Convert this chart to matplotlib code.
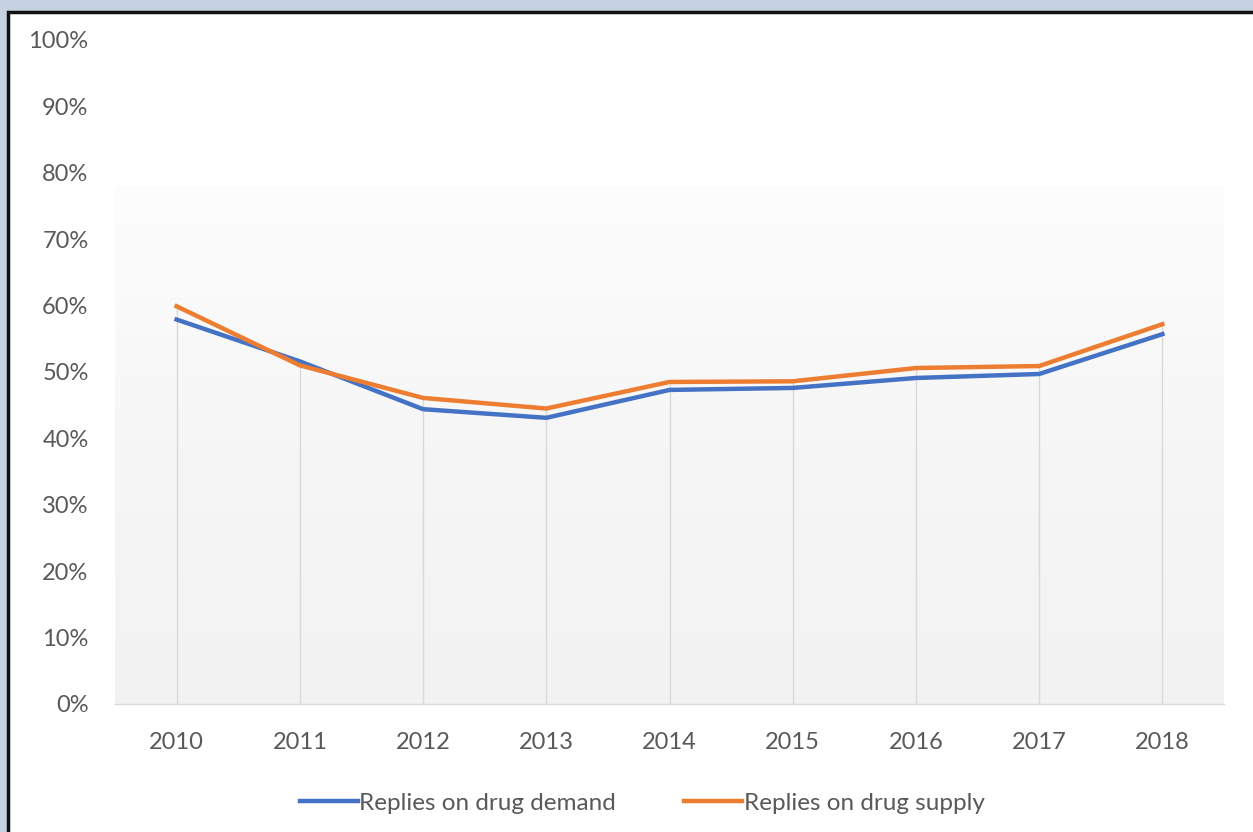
import matplotlib.pyplot as plt
from matplotlib.patches import Rectangle
from matplotlib.colors import LinearSegmentedColormap
import numpy as np

# values (percent)
years = ["2010", "2011", "2012", "2013", "2014", "2015", "2016", "2017", "2018"]
demand = [57.9, 51.6, 44.4, 43.1, 47.3, 47.6, 49.1, 49.7, 55.7]
supply = [59.9, 51.0, 46.1, 44.5, 48.5, 48.6, 50.6, 50.9, 57.2]
y_ticks = [0, 10, 20, 30, 40, 50, 60, 70, 80, 90, 100]

W, H = 1253, 832
plt.rcParams["font.family"] = ["Lato", "DejaVu Sans"]
fig = plt.figure(figsize=(W / 100, H / 100), dpi=100)
fig.patch.set_facecolor("#c4d2e2")

# white panel with black frame
fig.patches.append(Rectangle((8 / W, -0.1), 1.2, (H - 12) / H + 0.1, transform=fig.transFigure,
                             facecolor="white", edgecolor="#111111", linewidth=2.5, zorder=-10))

ax = fig.add_axes([115 / W, 1 - 704 / H, (1224 - 115) / W, (704 - 40) / H])
ax.set_facecolor("none")

x = np.arange(len(years))
ax.set_xlim(-0.5, len(years) - 0.5)
ax.set_ylim(0, 100)

# faint gradient in the plot area
grad = np.linspace(0, 1, 256).reshape(-1, 1)
ax.imshow(grad, extent=(-0.5, len(years) - 0.5, 0, 78), aspect="auto", origin="lower",
          cmap=LinearSegmentedColormap.from_list("g", ["#f2f2f2", "#f6f6f6", "#fdfdfd"]), zorder=0)

# drop lines
tops = np.maximum(demand, supply)
ax.vlines(x, 0, tops, colors="#d9d9d9", linewidth=1, zorder=1)

ax.plot(x, demand, color="#4472c4", linewidth=3.2, label="Replies on drug demand", zorder=3,
        solid_joinstyle="round")
ax.plot(x, supply, color="#ed7d31", linewidth=3.2, label="Replies on drug supply", zorder=3,
        solid_joinstyle="round")

for s in ["top", "right", "left"]:
    ax.spines[s].set_visible(False)
ax.spines["bottom"].set_color("#d9d9d9")
ax.spines["bottom"].set_linewidth(1)

ax.set_xticks(x)
ax.set_xticklabels(years)
ax.set_yticks(y_ticks)
ax.set_yticklabels([f"{v}%" for v in y_ticks])
ax.tick_params(axis="both", length=0, labelsize=17, colors="#595959")
ax.tick_params(axis="y", pad=19)
ax.tick_params(axis="x", pad=20)

fig.legend(loc="center", bbox_to_anchor=(642 / W, 1 - 803 / H), ncol=2, frameon=False,
           fontsize=17.5, handlelength=2.4, handletextpad=0.05, columnspacing=2.8,
           labelcolor="#595959")

fig.savefig("out.png", dpi=100, facecolor=fig.get_facecolor())
